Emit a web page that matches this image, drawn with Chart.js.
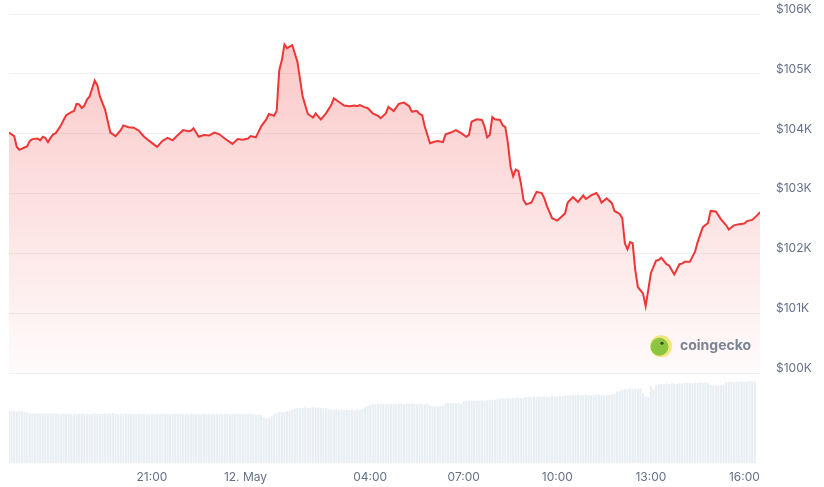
<!DOCTYPE html>
<html>
<head>
<meta charset="utf-8">
<script src="https://cdn.jsdelivr.net/npm/chart.js@4"></script>
<style>
  body { margin: 0; background: #fff; }
  #wrap { width: 824px; height: 487px; position: relative; }
</style>
</head>
<body>
<div id="wrap"><canvas id="myChart"></canvas></div>
<script>
// price readings: minutes relative to 12 May 00:00, USD
let priceMinutes = [
  -455, -445, -440, -435, -425, -420, -415, -410, -400, -395, -390, -385, -380, -375, -370, -365,
  -355, -350, -345, -335, -330, -325, -320, -315, -310, -305, -300, -290, -285, -280, -270, -260,
  -250, -240, -235, -225, -215, -205, -195, -185, -170, -160, -150, -140, -130, -120, -110, -105,
  -100, -90, -80, -70, -60, -50, -40, -25, -15, -5, 5, 10, 20, 30, 40, 45, 55, 60, 65, 70, 75, 80,
  90, 95, 100, 110, 120, 130, 135, 145, 155, 165, 170, 180, 190, 200, 210, 215, 220, 230, 235,
  245, 255, 260, 270, 275, 285, 295, 305, 315, 320, 330, 335, 340, 345, 355, 365, 370, 380, 385,
  395, 405, 415, 425, 430, 435, 445, 455, 460, 465, 470, 475, 480, 490, 495, 500, 505, 510, 515,
  520, 525, 530, 535, 540, 550, 560, 570, 575, 580, 590, 600, 605, 615, 620, 630, 640, 650, 655,
  665, 675, 680, 685, 695, 705, 710, 720, 725, 730, 735, 740, 745, 750, 755, 765, 770, 775, 780,
  790, 795, 800, 810, 815, 825, 835, 840, 845, 855, 865, 870, 880, 890, 895, 905, 915, 925, 930,
  940, 950, 960, 965, 975, 985, 990
];
let priceValues = [
  104020, 103960, 103780, 103730, 103770, 103790, 103880, 103910, 103920, 103890, 103950, 103930, 103860, 103930, 103990, 104010,
  104140, 104230, 104310, 104360, 104380, 104500, 104490, 104430, 104470, 104570, 104620, 104890, 104810, 104620, 104400, 104020,
  103960, 104060, 104140, 104110, 104100, 104050, 103950, 103880, 103780, 103880, 103930, 103890, 103980, 104060, 104040, 104050,
  104090, 103950, 103980, 103970, 104020, 103990, 103920, 103830, 103910, 103900, 103920, 103960, 103940, 104120, 104240, 104330, 104300, 104380, 105060, 105230, 105490, 105430,
  105480, 105340, 105200, 104620, 104330, 104270, 104340, 104240, 104340, 104480, 104590, 104530, 104470, 104460, 104470, 104460, 104480, 104440, 104430,
  104340, 104300, 104260, 104340, 104450, 104380, 104500, 104520, 104460, 104370, 104380, 104330, 104310, 104120, 103840, 103870, 103880, 103860, 103990,
  104020, 104060, 104010, 103950, 103980, 104200, 104240, 104230, 104120, 103940, 103980, 104280, 104240, 104230, 104140, 104110, 103840, 103450, 103290,
  103400, 103380, 103170, 102890, 102820, 102850, 103030, 103010, 102920, 102790, 102590, 102550, 102590, 102670, 102850, 102940, 102860, 102970, 102910,
  102970, 103010, 102950, 102850, 102920, 102840, 102710, 102660, 102590, 102170, 102070, 102190, 102170, 101720, 101440, 101330, 101120, 101390, 101670,
  101880, 101890, 101930, 101820, 101800, 101650, 101820, 101830, 101860, 101860, 102030, 102190, 102440, 102510, 102710, 102700, 102570, 102470, 102400,
  102470, 102490, 102500, 102540, 102560, 102640, 102690
];

// volume bars, one every 5 minutes from -455, in $B (one row = one hour)
let volumeStart = -455;
let volumeStep = 5;
let volumeValues = [
  35.0, 34.6, 34.9, 34.2, 34.8, 34.5, 34.0, 33.6, 33.2, 33.5, 33.0, 33.3,
  33.0, 32.8, 33.2, 32.9, 33.1, 32.7, 33.0, 32.9, 32.6, 33.1, 32.8, 32.9,
  32.8, 33.0, 32.7, 32.9, 33.2, 32.8, 33.0, 32.6, 32.9, 33.1, 32.7, 32.8,
  32.7, 32.9, 33.1, 32.8, 33.4, 32.9, 32.6, 33.0, 32.8, 33.2, 32.9, 32.7,
  32.8, 32.6, 32.9, 32.7, 33.0, 32.8, 32.5, 32.9, 32.6, 32.8, 32.7, 32.9,
  32.7, 32.9, 32.6, 32.8, 33.0, 32.7, 32.9, 32.6, 32.8, 32.5, 32.8, 32.7,
  32.6, 32.9, 32.7, 32.8, 32.6, 32.9, 32.7, 32.5, 32.8, 32.6, 32.7, 32.9,
  32.8, 32.6, 32.9, 32.7, 32.8, 32.6, 32.5, 32.8, 32.7, 32.9, 32.6, 32.4,
  32.3, 32.0, 30.5, 29.8, 30.2, 31.0, 32.5, 33.5, 34.0, 33.8, 34.2, 34.6,
  35.0, 35.6, 36.2, 36.8, 36.5, 36.9, 37.2, 36.8, 37.0, 37.3, 36.9, 37.1,
  37.0, 36.6, 36.8, 36.2, 35.8, 35.5, 35.9, 35.4, 35.7, 35.3, 35.6, 35.5,
  35.6, 35.2, 35.8, 35.5, 36.0, 37.5, 38.4, 38.8, 39.2, 39.0, 39.4, 39.3,
  39.5, 39.2, 39.6, 39.3, 39.7, 39.4, 39.5, 39.8, 39.3, 39.6, 39.4, 39.7,
  39.5, 39.3, 39.6, 39.4, 39.2, 39.5, 38.3, 38.0, 37.8, 38.1, 37.9, 38.2,
  39.8, 40.2, 40.0, 40.3, 39.9, 40.1, 39.6, 41.2, 41.5, 41.3, 41.6, 41.4,
  41.7, 41.5, 41.8, 41.6, 42.0, 41.9, 42.4, 42.2, 42.7, 43.0, 43.3, 43.1,
  43.5, 43.2, 43.6, 43.4, 43.8, 43.5, 43.7, 44.1, 44.3, 44.0, 44.4, 44.2,
  44.4, 44.1, 44.5, 44.3, 44.2, 44.6, 44.4, 44.5, 44.8, 44.6, 45.0, 45.3,
  45.2, 45.5, 45.3, 45.6, 45.4, 45.2, 45.7, 45.5, 45.3, 45.6, 45.4, 45.8,
  45.5, 45.3, 45.6, 45.4, 45.8, 46.0, 47.8, 48.2, 49.0, 49.4, 49.2, 49.6,
  49.3, 49.7, 49.5, 49.8, 46.5, 44.2, 44.0, 51.5, 49.0, 52.0, 52.5, 52.8,
  52.9, 53.1, 52.7, 53.2, 53.0, 52.8, 53.3, 53.1, 53.5, 53.4, 53.6, 53.3,
  53.7, 53.5, 53.9, 53.6, 53.8, 53.4, 52.2, 51.8, 52.1, 51.6, 52.0, 52.4,
  53.8, 54.2, 54.4, 54.1, 54.5, 54.3, 54.6, 54.2, 54.4, 54.7, 54.5, 54.3
];

let tickMinutes = [-180, 0, 240, 420, 600, 780, 960];
let tickLabels = ["21:00", "12. May", "04:00", "07:00", "10:00", "13:00", "16:00"];
let priceTicks = [100000, 101000, 102000, 103000, 104000, 105000, 106000];

let pricePoints = priceMinutes.map((m, i) => ({ x: m, y: priceValues[i] }));
let volumePoints = volumeValues.map((v, i) => ({ x: volumeStart + i * volumeStep, y: v }));

const lineRed = "#ee3636";
const tickGrey = "#66708a";

function fillGradient(context) {
  const chart = context.chart;
  const area = chart.chartArea;
  if (!area) return "rgba(240,58,58,0.15)";
  const bottom = chart.scales.y.getPixelForValue(100000);
  const g = chart.ctx.createLinearGradient(0, area.top, 0, bottom);
  g.addColorStop(0, "rgba(240,58,58,0.30)");
  g.addColorStop(1, "rgba(240,58,58,0.02)");
  return g;
}

const watermark = {
  id: "watermark",
  afterDatasetsDraw(chart) {
    const c = chart.ctx;
    const cx = chart.chartArea.right - 99;
    const cy = chart.scales.y.getPixelForValue(100450);
    c.save();
    c.beginPath();
    c.arc(cx, cy, 11, 0, Math.PI * 2);
    c.fillStyle = "#f3e57c";
    c.fill();
    c.beginPath();
    c.arc(cx - 1.5, cy + 0.5, 9, 0, Math.PI * 2);
    c.fillStyle = "#8cc641";
    c.fill();
    c.beginPath();
    c.arc(cx + 1, cy - 3, 1.6, 0, Math.PI * 2);
    c.fillStyle = "#3c4a2a";
    c.fill();
    c.font = "bold 14px Inter, 'Noto Sans', sans-serif";
    c.fillStyle = "#7b8494";
    c.textBaseline = "middle";
    c.fillText("coingecko", cx + 19, cy);
    c.restore();
  },
};

var ctx = document.getElementById("myChart");
var chart = new Chart(ctx, {
  data: {
    datasets: [
      {
        type: "line",
        data: pricePoints,
        yAxisID: "y",
        borderColor: lineRed,
        borderWidth: 2,
        pointRadius: 0,
        tension: 0,
        fill: { value: 100000 },
        backgroundColor: fillGradient,
        order: 1,
      },
      {
        type: "bar",
        data: volumePoints,
        yAxisID: "yv",
        backgroundColor: "#e9eef3",
        barPercentage: 1,
        categoryPercentage: 0.82,
        order: 2,
      },
    ],
  },
  options: {
    responsive: true,
    maintainAspectRatio: false,
    animation: false,
    layout: { padding: { left: 9, top: 14, right: 0, bottom: 0 } },
    plugins: { legend: { display: false }, tooltip: { enabled: false } },
    scales: {
      x: {
        type: "linear",
        min: -455,
        max: 990,
        offset: false,
        grid: { display: false, drawTicks: false },
        border: { display: false },
        afterBuildTicks: (s) => { s.ticks = tickMinutes.map((v) => ({ value: v })); },
        afterFit: (s) => { s.height = 24; s.paddingLeft = 0; s.paddingRight = 0; },
        ticks: {
          autoSkip: false,
          maxRotation: 0,
          padding: 7,
          color: tickGrey,
          font: { family: "Inter, 'Noto Sans', sans-serif", size: 12 },
          callback: (v) => tickLabels[tickMinutes.indexOf(v)],
        },
      },
      y: {
        position: "right",
        min: 98500,
        max: 106000,
        grid: { color: "#eef1f4", drawTicks: false },
        border: { display: false },
        afterBuildTicks: (s) => { s.ticks = priceTicks.map((v) => ({ value: v })); },
        afterFit: (s) => { s.width = 64; s.paddingTop = 0; s.paddingBottom = 0; },
        ticks: {
          padding: 16,
          color: tickGrey,
          font: { family: "Inter, 'Noto Sans', sans-serif", size: 12, lineHeight: 0.8 },
          // empty second line lifts the label a little above its grid line
          callback: (v) => ["$" + v / 1000 + "K", ""],
        },
      },
      yv: {
        display: false,
        min: 0,
        max: 300,
      },
    },
  },
  plugins: [watermark],
});
</script>
</body>
</html>
